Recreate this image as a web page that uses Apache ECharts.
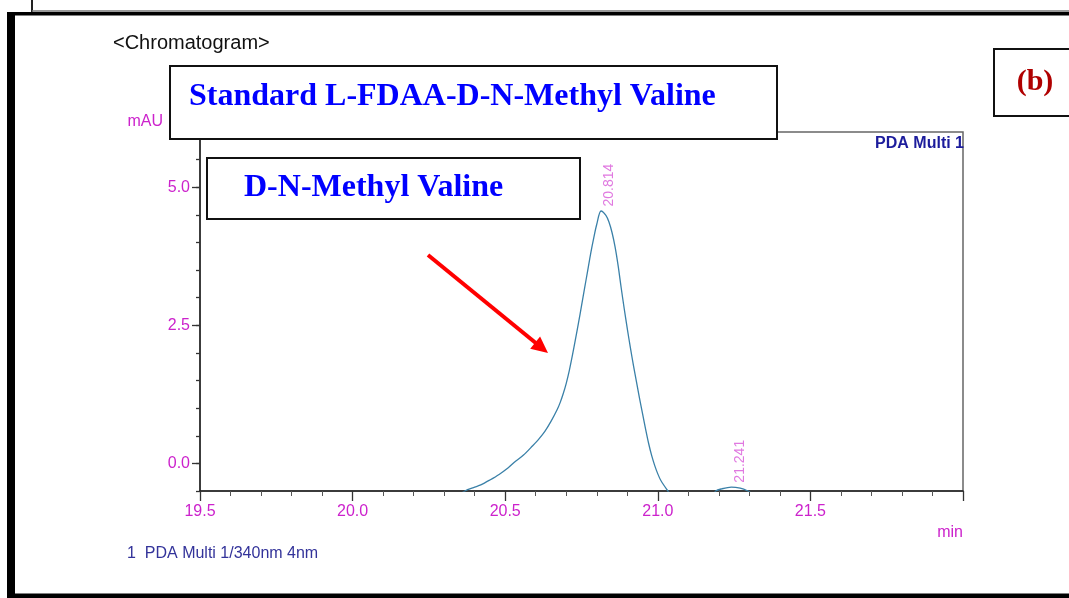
<!DOCTYPE html>
<html>
<head>
<meta charset="utf-8">
<script src="https://cdn.jsdelivr.net/npm/echarts@6/dist/echarts.min.js"></script>
<style>
  html, body { margin: 0; padding: 0; background: #fff; }
  #chart { width: 1069px; height: 598px; }
</style>
</head>
<body>
<div id="chart"></div>
<script>
// ---- data ----
const times = [20.30, 20.368, 20.40, 20.42, 20.45, 20.48, 20.51, 20.53, 20.56, 20.59, 20.61, 20.63, 20.65, 20.67, 20.68, 20.69, 20.70, 20.71, 20.72, 20.73, 20.74, 20.75, 20.76, 20.77, 20.78, 20.79, 20.80, 20.814, 20.83, 20.84, 20.85, 20.86, 20.87, 20.88, 20.89, 20.90, 20.91, 20.92, 20.93, 20.94, 20.95, 20.96, 20.97, 20.98, 20.99, 21.00, 21.01, 21.033, 21.06, 21.15, 21.19, 21.21, 21.241, 21.27, 21.295, 21.33, 22.0];
const intensity = [-0.75, -0.50, -0.43, -0.39, -0.30, -0.20, -0.08, 0.02, 0.15, 0.32, 0.44, 0.58, 0.76, 0.97, 1.10, 1.26, 1.45, 1.68, 1.95, 2.24, 2.54, 2.85, 3.17, 3.48, 3.80, 4.08, 4.33, 4.57, 4.49, 4.37, 4.18, 3.92, 3.58, 3.18, 2.80, 2.44, 2.10, 1.78, 1.48, 1.18, 0.90, 0.62, 0.36, 0.14, -0.04, -0.19, -0.31, -0.50, -0.70, -0.75, -0.50, -0.46, -0.43, -0.45, -0.50, -0.60, -0.65];
const peakTimes = [20.814, 21.241];
const peakHeights = [4.57, -0.43];
const peakLabels = ['20.814', '21.241'];
const xTickLabels = [19.5, 20.0, 20.5, 21.0, 21.5];
const yTickLabels = [0.0, 2.5, 5.0];

const MAG = '#cc22cc';
const SANS = '"Liberation Sans", Arial, sans-serif';
const SERIF = '"Liberation Serif", "Times New Roman", serif';

const lineData = times.map((t, i) => [t, intensity[i]]);
const peakData = peakTimes.map((t, i) => ({ value: [t, peakHeights[i]], name: peakLabels[i] }));

const chart = echarts.init(document.getElementById('chart'), null, { renderer: 'canvas' });

const option = {
  animation: false,
  backgroundColor: '#fff',
  grid: {
    left: 200, top: 132, width: 763, height: 359,
    show: true, borderColor: '#666', borderWidth: 1.5, backgroundColor: 'transparent'
  },
  xAxis: {
    type: 'value', min: 19.5, max: 22.0, interval: 0.5,
    axisLine: { show: true, onZero: false, lineStyle: { color: '#222', width: 1.5 } },
    axisTick: { show: true, length: 10, lineStyle: { color: '#333', width: 1.3 } },
    minorTick: { show: true, splitNumber: 5, length: 5, lineStyle: { color: '#555', width: 1 } },
    splitLine: { show: false },
    axisLabel: {
      color: MAG, fontSize: 16, fontFamily: SANS, margin: 13,
      formatter: v => xTickLabels.some(x => Math.abs(x - v) < 1e-6) ? v.toFixed(1) : ''
    }
  },
  yAxis: [
    {
      type: 'value', min: -0.5, max: 6.0, interval: 0.5,
      axisLine: { show: true, onZero: false, lineStyle: { color: '#222', width: 1.5 } },
      axisTick: { show: true, length: 4, lineStyle: { color: '#333', width: 1.3 } },
      splitLine: { show: false },
      axisLabel: {
        color: MAG, fontSize: 16, fontFamily: SANS, margin: 10,
        formatter: v => yTickLabels.some(y => Math.abs(y - v) < 1e-6) ? v.toFixed(1) : ''
      }
    },
    {
      type: 'value', min: -0.5, max: 6.0, position: 'left',
      axisLine: { show: false },
      axisTick: { show: true, length: 8, customValues: yTickLabels, lineStyle: { color: '#333', width: 1.3 } },
      axisLabel: { show: false },
      splitLine: { show: false }
    }
  ],
  series: [
    {
      type: 'line', data: lineData, xAxisIndex: 0, yAxisIndex: 0,
      showSymbol: false, smooth: 0.3, clip: true,
      lineStyle: { color: '#3a80a8', width: 1.3 }
    },
    {
      type: 'scatter', data: peakData, xAxisIndex: 0, yAxisIndex: 0,
      symbolSize: 1, itemStyle: { color: 'rgba(0,0,0,0)' },
      label: {
        show: true, formatter: p => p.name, rotate: 90,
        position: [9, -4], align: 'left', verticalAlign: 'middle',
        color: '#d858d8', fontSize: 14, fontFamily: SANS
      }
    }
  ],
  graphic: [
    // outer panel frame
    { type: 'line', z: 100, shape: { x1: 32, y1: 0, x2: 32, y2: 12 }, style: { stroke: '#222', lineWidth: 2 } },
    { type: 'line', z: 100, shape: { x1: 32, y1: 11, x2: 1069, y2: 11 }, style: { stroke: '#777', lineWidth: 1.5 } },
    { type: 'rect', z: 100, shape: { x: 7, y: 12, width: 1062, height: 3.5 }, style: { fill: '#000' } },
    { type: 'rect', z: 100, shape: { x: 7, y: 12, width: 8, height: 586 }, style: { fill: '#000' } },
    { type: 'rect', z: 100, shape: { x: 7, y: 593.5, width: 1062, height: 5 }, style: { fill: '#000' } },
    // texts
    { type: 'text', z: 100, left: 113, top: 33, style: { text: '<Chromatogram>', fill: '#111', font: '20px ' + SANS } },
    { type: 'text', z: 100, style: { x: 163, y: 122, text: 'mAU', fill: MAG, font: '16px ' + SANS, textAlign: 'right', textVerticalAlign: 'middle' } },
    { type: 'text', z: 100, style: { x: 964, y: 144, text: 'PDA Multi 1', fill: '#1c1c9c', font: 'bold 16px ' + SANS, textAlign: 'right', textVerticalAlign: 'middle' } },
    { type: 'text', z: 100, style: { x: 963, y: 533, text: 'min', fill: MAG, font: '16px ' + SANS, textAlign: 'right', textVerticalAlign: 'middle' } },
    { type: 'text', z: 100, style: { x: 127, y: 554, text: '1  PDA Multi 1/340nm 4nm', fill: '#33339a', font: '16px ' + SANS, textVerticalAlign: 'middle' } },
    // title boxes
    { type: 'rect', z: 110, shape: { x: 170, y: 66, width: 607, height: 73 }, style: { fill: '#fff', stroke: '#111', lineWidth: 2 } },
    { type: 'text', z: 111, style: { x: 189, y: 97, text: 'Standard L-FDAA-D-N-Methyl Valine', fill: '#0000ff', font: 'bold 32px ' + SERIF, textVerticalAlign: 'middle' } },
    { type: 'rect', z: 110, shape: { x: 207, y: 158, width: 373, height: 61 }, style: { fill: '#fff', stroke: '#111', lineWidth: 2 } },
    { type: 'text', z: 111, style: { x: 244, y: 188, text: 'D-N-Methyl Valine', fill: '#0000ff', font: 'bold 32px ' + SERIF, textVerticalAlign: 'middle' } },
    { type: 'rect', z: 110, shape: { x: 994, y: 49, width: 80, height: 67 }, style: { fill: '#fff', stroke: '#111', lineWidth: 2 } },
    { type: 'text', z: 111, style: { x: 1035, y: 82, text: '(b)', fill: '#b00000', font: 'bold 30px ' + SERIF, textAlign: 'center', textVerticalAlign: 'middle' } },
    // red arrow annotation
    { type: 'line', z: 105, shape: { x1: 428, y1: 255, x2: 537, y2: 344 }, style: { stroke: '#ff0000', lineWidth: 4 } },
    { type: 'polygon', z: 105, shape: { points: [[548, 353], [540.1, 336.5], [530.2, 348.8]] }, style: { fill: '#ff0000' } }
  ]
};

chart.setOption(option);
</script>
</body>
</html>
